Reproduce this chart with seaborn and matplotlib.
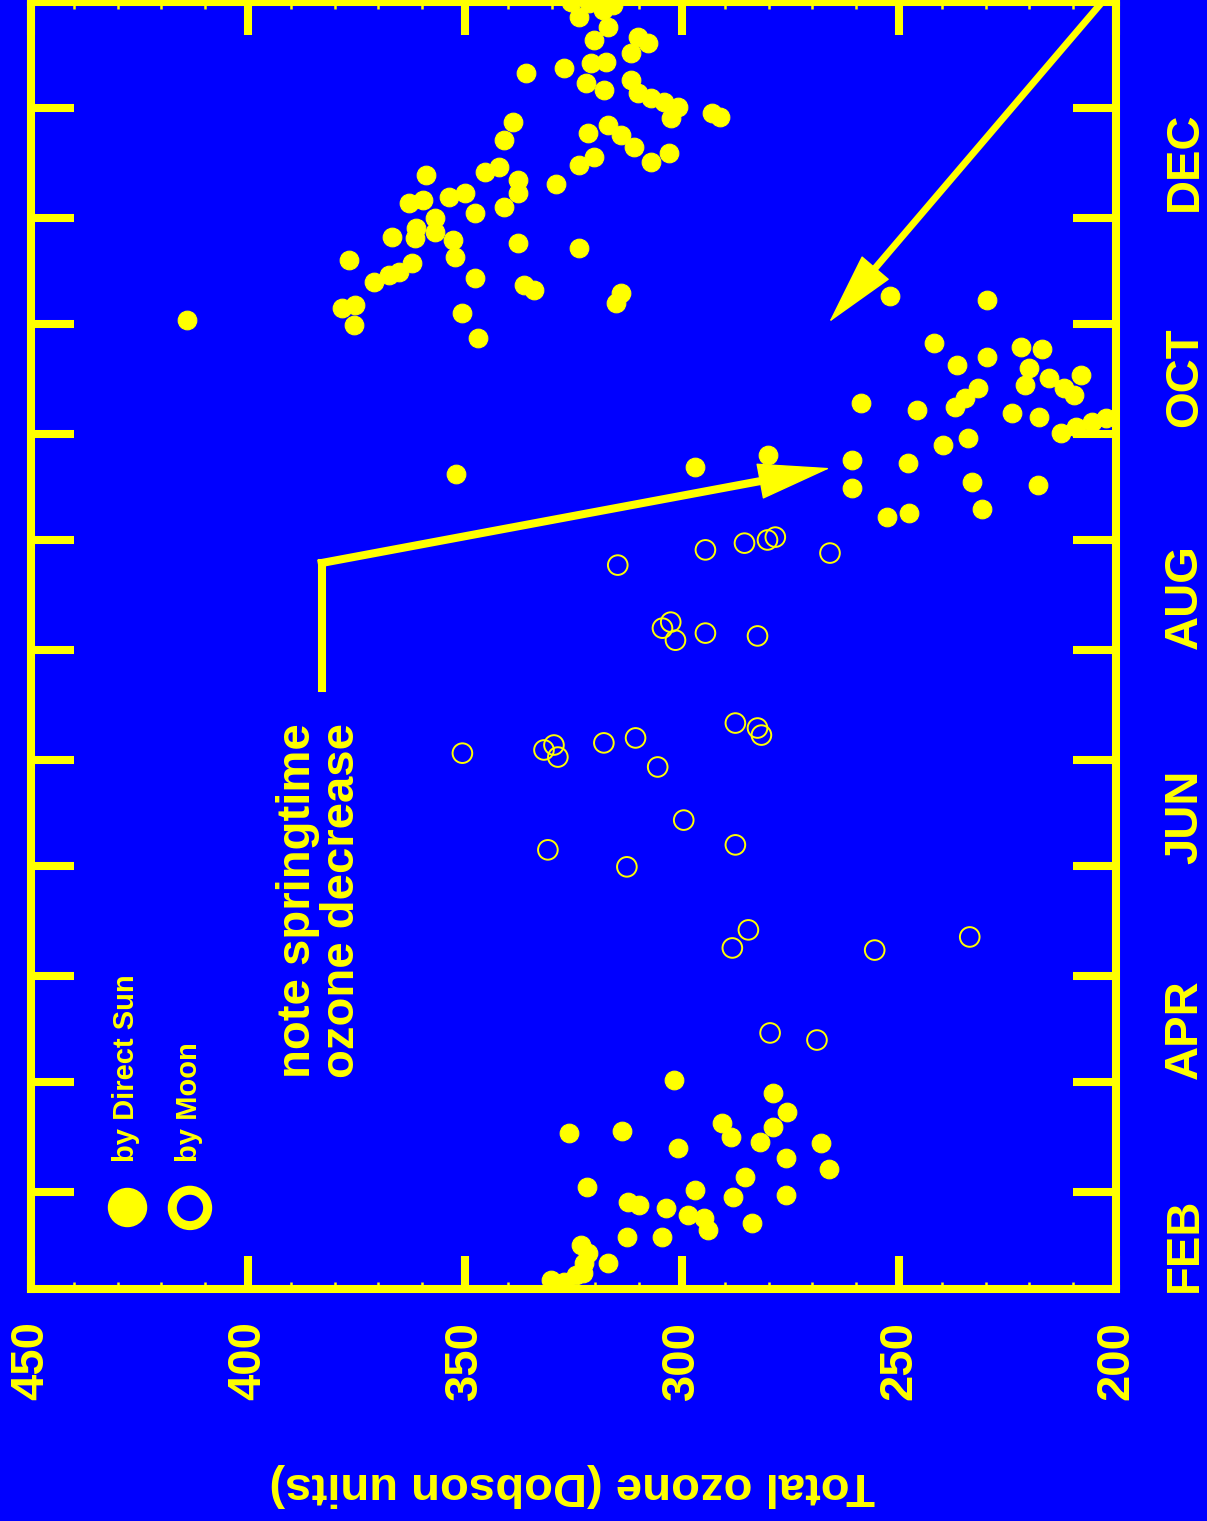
import matplotlib
matplotlib.use("Agg")
import matplotlib.pyplot as plt
from matplotlib.ticker import MultipleLocator
import seaborn as sns
import pandas as pd

BLUE = "#0000ff"
YELLOW = "#ffff00"

# total ozone (Dobson units) against day of year (days > 365 are the following January)
sun_ozone = [
    414.0, 378.4, 375.4, 375.6, 376.8, 371.0, 367.6, 365.3, 362.3, 366.9, 361.6, 361.2,
    362.8, 359.6, 358.9, 357.0, 357.0, 353.8, 350.1, 352.7, 352.4, 347.8, 347.8, 350.8,
    346.9, 345.5, 342.1, 341.0, 337.7, 337.7, 337.7, 336.4, 334.1, 338.9, 341.0, 335.9,
    329.0, 323.7, 320.3, 321.7, 317.1, 314.1, 311.1, 307.2, 303.1, 323.7, 314.1, 315.2,
    327.2, 322.1, 318.0, 321.0, 317.5, 320.3, 323.7, 318.2, 317.1, 310.2, 307.9, 311.8,
    311.8, 310.2, 307.2, 304.2, 301.0, 302.6, 293.0, 291.2, 321.4, 315.9, 325.6,
    252.1, 229.8, 242.0, 229.8, 236.7, 221.8, 217.0, 220.0, 220.9, 215.4, 211.9, 209.6,
    208.0, 231.9, 234.9, 237.2, 258.8, 245.9, 223.9, 217.7, 212.6, 209.2, 205.5, 202.3,
    239.9, 234.0, 260.8, 248.0, 280.1, 296.9, 260.8, 233.1, 217.9, 252.8, 247.7, 230.8,
    352.0,
    301.9, 279.0, 275.8, 290.7, 288.8, 279.0, 282.0, 326.0, 313.9, 301.0, 268.0, 276.0,
    266.1, 285.4, 288.2, 276.0, 296.9, 321.9, 312.5, 310.0, 303.8, 298.7, 295.0, 293.9,
    283.8, 312.7, 304.7, 323.3, 321.7, 322.6, 322.8, 317.1, 330.2, 327.2, 324.4,
]
sun_day = [
    306.2, 309.6, 310.4, 304.8, 323.1, 316.9, 318.9, 319.7, 322.3, 329.6, 329.3, 332.2,
    339.2, 340.1, 347.1, 335.0, 331.0, 340.9, 342.0, 328.8, 324.0, 336.4, 318.0, 308.2,
    301.1, 348.0, 349.4, 338.1, 345.7, 342.0, 327.9, 316.1, 314.7, 362.1, 357.0, 375.9,
    344.6, 349.9, 352.2, 359.0, 361.2, 358.4, 355.0, 350.8, 353.3, 326.5, 313.8, 311.0,
    377.3, 373.1, 371.1, 378.7, 379.0, 385.2, 391.7, 393.7, 388.9, 386.1, 384.4, 381.6,
    373.9, 370.3, 368.9, 367.7, 366.3, 363.2, 364.6, 363.5, 395.7, 395.1, 396.0,
    313.0, 311.8, 299.7, 295.7, 293.5, 298.6, 298.0, 292.6, 287.8, 289.8, 287.0, 285.0,
    290.7, 287.0, 284.2, 281.6, 282.8, 280.8, 279.9, 278.8, 274.3, 276.0, 277.4, 278.5,
    270.9, 272.9, 266.7, 265.8, 268.1, 264.7, 258.8, 260.5, 259.6, 250.6, 251.7, 252.8,
    262.7,
    91.6, 87.9, 82.6, 79.5, 75.5, 78.4, 74.1, 76.7, 77.2, 72.4, 73.8, 69.6,
    66.5, 64.2, 58.6, 59.2, 60.6, 61.4, 57.2, 56.3, 55.5, 53.5, 52.7, 49.3,
    51.2, 47.3, 47.3, 45.0, 42.8, 40.0, 37.1, 40.0, 35.2, 34.6, 36.6,
]
moon_ozone = [
    314.8, 294.6, 285.6, 280.3, 278.5, 265.9, 304.5, 302.6, 301.5, 294.6, 282.6,
    350.6, 331.8, 329.5, 328.6, 318.0, 310.7, 305.6, 287.7, 282.6, 281.7,
    330.9, 312.7, 299.6, 287.7, 284.7, 288.4, 255.6, 233.7, 279.7, 268.9,
]
moon_day = [
    237.0, 241.3, 243.2, 244.1, 244.9, 240.4, 219.2, 220.9, 215.8, 217.8, 217.0,
    183.9, 184.8, 186.2, 182.8, 186.8, 188.2, 180.0, 192.4, 191.0, 189.0,
    156.6, 151.8, 165.0, 158.0, 134.0, 128.9, 128.3, 132.0, 104.9, 102.9,
]

month_start_days = [60, 91, 121, 152, 182, 213, 244, 274, 305, 335, 366]
month_label_days = [45, 106, 166, 228, 290, 351]
month_labels = ["FEB", "APR", "JUN", "AUG", "OCT", "DEC"]
ozone_ticks = [200, 250, 300, 350, 400, 450]

sun = pd.DataFrame({"ozone": sun_ozone, "day": sun_day})
moon = pd.DataFrame({"ozone": moon_ozone, "day": moon_day})

sns.set_theme(style="ticks")
plt.rcParams["font.family"] = ["Liberation Sans", "DejaVu Sans"]
plt.rcParams["font.weight"] = "bold"
plt.rcParams["axes.labelweight"] = "bold"
plt.rcParams["text.color"] = YELLOW

fig = plt.figure(figsize=(12.07, 15.21), dpi=100, facecolor=BLUE)
ax = fig.add_axes([0.02568, 0.15253, 0.89892, 0.84616])
ax.set_facecolor(BLUE)

sns.scatterplot(data=sun, x="ozone", y="day", ax=ax, color=YELLOW,
                edgecolor=YELLOW, s=180, linewidth=0.8, zorder=3)
sns.scatterplot(data=moon, x="ozone", y="day", ax=ax, facecolor="none",
                edgecolor=YELLOW, s=200, linewidth=1.4, zorder=3)

ax.set_xlim(450, 200)
ax.set_ylim(32.6, 396.0)
ax.set_ylabel("")

# ozone axis (horizontal)
ax.set_xticks(ozone_ticks)
ax.xaxis.set_minor_locator(MultipleLocator(10))
ax.tick_params(axis="x", which="major", direction="in", length=24, width=5.8,
               top=True, bottom=True, labelsize=34, pad=23, labelrotation=90,
               colors=YELLOW)
ax.tick_params(axis="x", which="minor", direction="in", length=5, width=1.8,
               top=True, bottom=True, colors=YELLOW)

# month axis (vertical), ticks at month starts, labels mid-month on the right
ax.set_yticks(month_start_days)
ax.set_yticklabels([])
ax.set_yticks(month_label_days, month_labels, minor=True)
ax.tick_params(axis="y", which="major", direction="in", length=31, width=5.8,
               left=True, right=True, labelleft=False, labelright=False,
               colors=YELLOW)
ax.tick_params(axis="y", which="minor", length=0, left=False, right=False,
               labelleft=False, labelright=True, labelsize=34, pad=34,
               labelrotation=90, colors=YELLOW)
for lab in ax.get_yticklabels(minor=True):
    lab.set_verticalalignment("center")

for sp in ax.spines.values():
    sp.set_visible(True)
    sp.set_color(YELLOW)
    sp.set_linewidth(5.8)
    sp.set_capstyle("projecting")

ax.set_xlabel("Total ozone (Dobson units)", fontsize=34, fontweight="bold",
              rotation=180, va="center", color=YELLOW)
ax.xaxis.set_label_coords(0.499, -0.1525)

# legend drawn by hand so the text can be rotated
ax.scatter([0.0885], [0.0638], s=750, color=YELLOW, transform=ax.transAxes,
           zorder=4)
ax.scatter([0.1465], [0.0630], s=650, facecolor="none", edgecolor=YELLOW,
           linewidth=6.5, transform=ax.transAxes, zorder=4)
ax.text(0.0876, 0.0988, "by Direct Sun", rotation=90, ha="center", va="bottom",
        fontsize=21, transform=ax.transAxes)
ax.text(0.1452, 0.0988, "by Moon", rotation=90, ha="center", va="bottom",
        fontsize=21, transform=ax.transAxes)

# annotation text and arrows
ax.text(383.3, 92.2, "note springtime\nozone decrease", rotation=90,
        ha="center", va="bottom", fontsize=34, linespacing=1.0,
        multialignment="left")


def arrow(start, tip, lw):
    # shaft stops inside the head so its thick end stays hidden
    end = (start[0] + 0.9 * (tip[0] - start[0]), start[1] + 0.9 * (tip[1] - start[1]))
    ax.plot([start[0], end[0]], [start[1], end[1]], color=YELLOW, lw=lw,
            solid_capstyle="projecting", zorder=4, clip_on=False)
    ax.annotate("", xy=tip, xytext=end, annotation_clip=False,
                arrowprops=dict(arrowstyle="-|>,head_length=49,head_width=12.3",
                                mutation_scale=1, lw=1, color=YELLOW,
                                shrinkA=0, shrinkB=0), zorder=4)


ax.plot([383.0, 383.0], [202.3, 237.6], color=YELLOW, lw=5.8,
        solid_capstyle="projecting", zorder=4)
arrow((383.0, 237.6), (265.9, 264.4), 5.8)
arrow((203.4, 395.7), (266.1, 305.6), 5.0)

fig.savefig("out.png", dpi=100, facecolor=BLUE)
